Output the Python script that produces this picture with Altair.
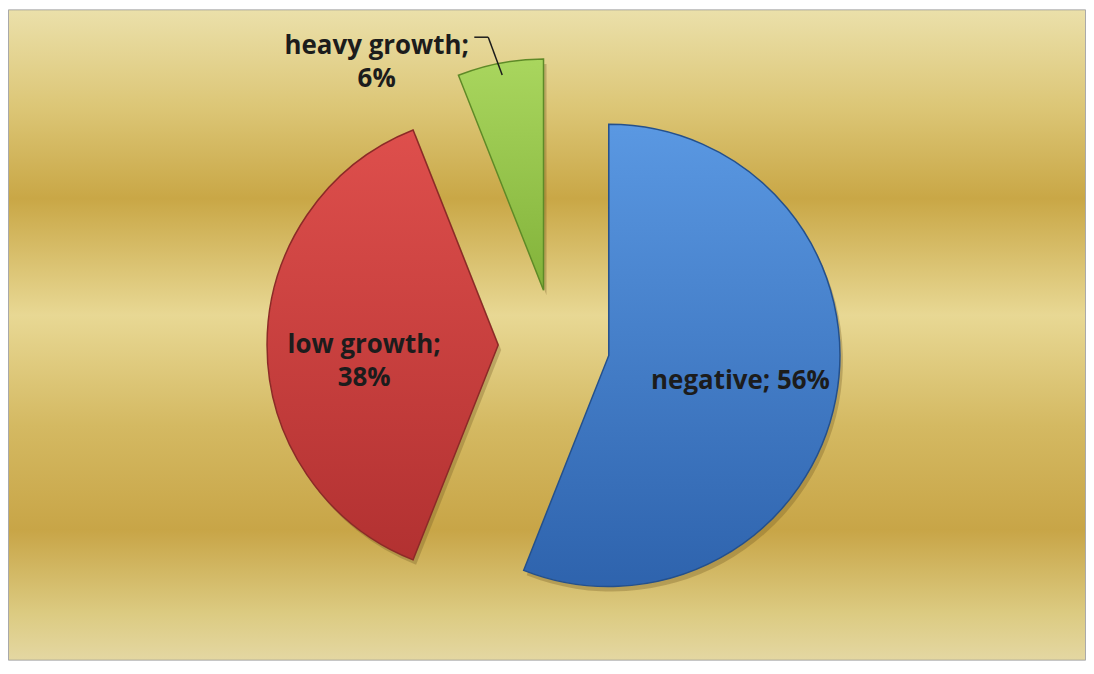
import altair as alt
import pandas as pd

# ---- data ----
categories = ["negative", "low growth", "heavy growth"]
values = [56, 38, 6]
wrap_label = [False, True, True]      # label split onto two lines
outside_label = [False, False, True]  # label placed outside with leader line

# ---- styles ----
top_colors = ["#5a98e2", "#de4f4c", "#a9d65e"]
bottom_colors = ["#2e63ad", "#b23131", "#82b23a"]
edge_colors = ["#24508c", "#8c2a27", "#5e8a27"]

W, H = 1080, 652
CX, CY = 547, 336     # pie centre (px)
R = 232               # pie radius (px)
E = 56                # explosion distance (px)
LF = 0.58             # inside label position (fraction of radius)

labels = [f"{c};" + ("\n" if w else " ") + f"{v}%" for c, v, w in zip(categories, values, wrap_label)]
df = pd.DataFrame({
    "category": categories,
    "value": values,
    "order": list(range(len(categories))),
    "label": labels,
    "outside": outside_label,
})

base = (
    alt.Chart(df)
    .transform_joinaggregate(total="sum(value)")
    .transform_window(cum="sum(value)", sort=[alt.SortField("order")], frame=[None, 0])
    .transform_calculate(a0="(datum.cum - datum.value) / datum.total * 2 * PI")
    .transform_calculate(a1="datum.cum / datum.total * 2 * PI")
    .transform_calculate(mid="(datum.a0 + datum.a1) / 2")
    .transform_calculate(cx=f"{CX} + {E} * sin(datum.mid)")
    .transform_calculate(cy=f"{CY} - {E} * cos(datum.mid)")
    .transform_calculate(lx=f"{CX} + ({E} + {LF} * {R}) * sin(datum.mid)")
    .transform_calculate(ly=f"{CY} - ({E} + {LF} * {R}) * cos(datum.mid)")
    .transform_calculate(ox=f"{CX} + ({E} + {R}) * sin(datum.mid)")
    .transform_calculate(oy=f"{CY} - ({E} + {R}) * cos(datum.mid)")
)

arc_enc = dict(
    theta=alt.Theta("a0:Q", scale=None, stack=None),
    theta2=alt.Theta2("a1:Q"),
    x=alt.X("cx:Q", scale=None, axis=None),
    y=alt.Y("cy:Q", scale=None, axis=None),
)

# background gradient
bg = alt.Chart(alt.Data(values=[{"a": 1}])).mark_rect(
    fill=alt.Gradient(
        gradient="linear", x1=0, y1=0, x2=0, y2=1,
        stops=[
            alt.GradientStop(color="#ebe0aa", offset=0.0),
            alt.GradientStop(color="#dcc676", offset=0.15),
            alt.GradientStop(color="#c9a746", offset=0.29),
            alt.GradientStop(color="#e8d894", offset=0.47),
            alt.GradientStop(color="#d4b962", offset=0.64),
            alt.GradientStop(color="#c8a547", offset=0.80),
            alt.GradientStop(color="#dccb82", offset=0.93),
            alt.GradientStop(color="#e4d7a2", offset=1.0),
        ],
    ),
    stroke=None,
).encode(x=alt.value(0), x2=alt.value(W), y=alt.value(0), y2=alt.value(H))

shadow = base.mark_arc(radius=R, xOffset=3, yOffset=5, fill="#6b5420", opacity=0.3).encode(**arc_enc)

slices = []
for cat, c1, c2, ec in zip(categories, top_colors, bottom_colors, edge_colors):
    slices.append(
        base.transform_filter(alt.datum.category == cat)
        .mark_arc(
            radius=R,
            fill=alt.Gradient(
                gradient="linear", x1=0, y1=0, x2=0, y2=1,
                stops=[alt.GradientStop(color=c1, offset=0), alt.GradientStop(color=c2, offset=1)],
            ),
            stroke=ec,
            strokeWidth=1.5,
        )
        .encode(**arc_enc)
    )

text_style = dict(font="Open Sans", fontWeight="bold", fontSize=26, lineBreak="\n",
                  lineHeight=33, align="center", baseline="middle", color="#1c1c1c")

inside_text = (
    base.transform_filter("!datum.outside")
    .mark_text(**text_style)
    .encode(x=alt.X("lx:Q", scale=None, axis=None), y=alt.Y("ly:Q", scale=None, axis=None), text="label:N")
)

outer = base.transform_filter("datum.outside")
outside_text = (
    outer.transform_calculate(tx="datum.ox - 124", ty="datum.oy - 17")
    .mark_text(**text_style)
    .encode(x=alt.X("tx:Q", scale=None, axis=None), y=alt.Y("ty:Q", scale=None, axis=None), text="label:N")
)
leader_h = (
    outer.transform_calculate(hx0="datum.ox - 26", hx1="datum.ox - 12", hy="datum.oy - 26")
    .mark_rule(color="#1c1c1c", strokeWidth=1.5)
    .encode(x=alt.X("hx0:Q", scale=None, axis=None), x2="hx1:Q",
            y=alt.Y("hy:Q", scale=None, axis=None))
)
leader_s = (
    outer.transform_calculate(sx0="datum.ox - 12", sy0="datum.oy - 26", sx1="datum.ox + 2", sy1="datum.oy + 12")
    .mark_rule(color="#1c1c1c", strokeWidth=1.5)
    .encode(x=alt.X("sx0:Q", scale=None, axis=None), x2="sx1:Q",
            y=alt.Y("sy0:Q", scale=None, axis=None), y2="sy1:Q")
)

chart = (
    alt.layer(bg, shadow, *slices, inside_text, outside_text, leader_h, leader_s)
    .properties(width=W, height=H, padding=1, background="white",
                autosize=alt.AutoSizeParams(type="none"))
    .configure_view(stroke="#8e8e8e", strokeWidth=1.5)
)

chart.save("out.html", embed_options={"renderer": "svg", "actions": False})
